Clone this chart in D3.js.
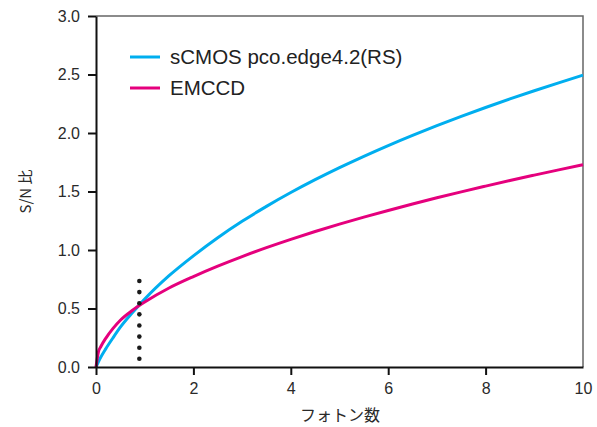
<!DOCTYPE html>
<html>
<head>
<meta charset="utf-8">
<script src="https://cdn.jsdelivr.net/npm/d3@7"></script>
<style>
  body { margin: 0; background: #fff; }
  text { font-family: "Liberation Sans", Arial, sans-serif; }
  .jp { font-family: "Noto Sans CJK JP", sans-serif; }
</style>
</head>
<body>
<svg id="chart" width="597" height="427"></svg>
<script>
// photon counts sampled along the curves
const photons = [0, 0.05, 0.1, 0.2, 0.35, 0.5, 0.75, 1, 1.5, 2, 2.5, 3, 3.5, 4, 4.5, 5, 5.5, 6, 6.5, 7, 7.5, 8, 8.5, 9, 9.5, 10];
const snrSCMOS = [0, 0.045, 0.085, 0.155, 0.25, 0.34, 0.465, 0.58, 0.78, 0.95, 1.105, 1.245, 1.373, 1.491, 1.601, 1.704, 1.801, 1.893, 1.98, 2.063, 2.142, 2.218, 2.291, 2.361, 2.429, 2.495];
const snrEMCCD = [0, 0.13, 0.175, 0.245, 0.33, 0.40, 0.485, 0.555, 0.675, 0.773, 0.862, 0.944, 1.02, 1.091, 1.158, 1.221, 1.281, 1.338, 1.393, 1.446, 1.497, 1.546, 1.594, 1.64, 1.685, 1.729];

const seriesNames = ["sCMOS pco.edge4.2(RS)", "EMCCD"];
const seriesColors = ["#00aeef", "#e5007d"];

// dotted marker at the crossing
const markerX = 0.89;
const markerDots = [0.07, 0.165, 0.26, 0.355, 0.45, 0.545, 0.64, 0.735];

const xTicks = [0, 2, 4, 6, 8, 10];
const yTicks = [0, 0.5, 1.0, 1.5, 2.0, 2.5, 3.0];

const svg = d3.select("#chart");
const margin = {left: 96, right: 14, top: 16, bottom: 60};
const W = 597, H = 427;

const x = d3.scaleLinear().domain([0, 10]).range([margin.left, W - margin.right]);
const y = d3.scaleLinear().domain([0, 3]).range([H - margin.bottom, margin.top]);

// frame (top/right)
svg.append("path")
    .attr("d", `M${x(0)},${y(3)}H${x(10)}V${y(0)}`)
    .attr("fill", "none")
    .attr("stroke", "#666")
    .attr("stroke-width", 1.5);

// curves
const line = d3.line().x(d => x(d[0])).y(d => y(d[1])).curve(d3.curveMonotoneX);
[snrSCMOS, snrEMCCD].forEach((vals, i) => {
    svg.append("path")
        .datum(photons.map((p, j) => [p, vals[j]]))
        .attr("d", line)
        .attr("fill", "none")
        .attr("stroke", seriesColors[i])
        .attr("stroke-width", 3);
});

// dots
svg.append("g").selectAll("circle")
    .data(markerDots)
    .join("circle")
    .attr("cx", x(markerX))
    .attr("cy", d => y(d))
    .attr("r", 2.3)
    .attr("fill", "#1a1a1a");

// axes
const xAxis = svg.append("g")
    .attr("transform", `translate(0,${y(0)})`)
    .call(d3.axisBottom(x).tickValues(xTicks).tickFormat(d3.format("d")).tickSize(8).tickSizeOuter(0).tickPadding(8));
xAxis.selectAll(".tick").filter(d => d === 10).select("line").remove();

const yAxis = svg.append("g")
    .attr("transform", `translate(${x(0)},0)`)
    .call(d3.axisLeft(y).tickValues(yTicks).tickFormat(d3.format(".1f")).tickSize(8).tickSizeOuter(0).tickPadding(8));

[xAxis, yAxis].forEach(a => {
    a.select(".domain").attr("stroke", "#111").attr("stroke-width", 2);
    a.selectAll(".tick line").attr("stroke", "#111").attr("stroke-width", 2);
    a.selectAll(".tick text").attr("font-size", 16).attr("fill", "#2a2a2a")
        .attr("font-family", "'Liberation Sans', Arial, sans-serif");
});

// axis titles
svg.append("text")
    .attr("class", "jp")
    .attr("x", 340).attr("y", 421)
    .attr("text-anchor", "middle")
    .attr("font-size", 16)
    .attr("fill", "#2a2a2a")
    .text("フォトン数");

svg.append("text")
    .attr("class", "jp")
    .attr("transform", `translate(31,${(y(3) + y(0)) / 2}) rotate(-90)`)
    .attr("text-anchor", "middle")
    .attr("font-size", 15)
    .attr("fill", "#2a2a2a")
    .text("S/N 比");

// legend
const legend = svg.append("g");
seriesNames.forEach((name, i) => {
    const ly = 57 + i * 31;
    legend.append("line")
        .attr("x1", 130).attr("x2", 160)
        .attr("y1", ly).attr("y2", ly)
        .attr("stroke", seriesColors[i])
        .attr("stroke-width", 3);
    legend.append("text")
        .attr("x", 170).attr("y", ly + 7)
        .attr("font-size", 20.5)
        .attr("fill", "#222")
        .text(name);
});
</script>
</body>
</html>
